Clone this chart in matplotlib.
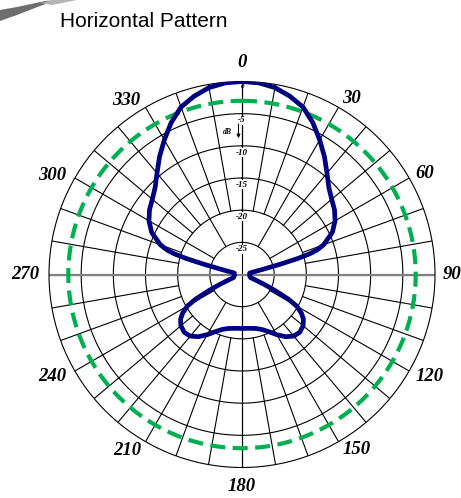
import numpy as np
import matplotlib.pyplot as plt
from matplotlib.patches import Polygon

# pattern data (dB), symmetric about the 0-180 axis
half_deg = [0, 5, 10, 15, 20, 25, 30, 35, 40, 45, 50, 55, 60, 65, 70, 72, 73, 74,
            75, 76, 77, 78, 80, 90, 100, 110, 112, 114, 116, 118, 120, 123, 126,
            130, 135, 140, 145, 150, 155, 160, 165, 170, 175, 180]
half_db = [0.0, -0.1, -0.5, -1.3, -2.3, -3.95, -5.85, -7.65, -9.45, -10.9, -11.8,
           -12.45, -13.3, -14.5, -16.5, -17.8, -19.0, -21.0, -24.0, -26.5, -27.8,
           -28.5, -28.8, -28.8, -28.8, -28.6, -27.8, -26.2, -24.2, -21.8, -20.2,
           -19.0, -18.2, -17.6, -17.3, -17.5, -18.2, -19.2, -20.2, -20.9, -21.3,
           -21.5, -21.6, -21.6]

omni_db = -3.0

ring_levels = [-25, -20, -15, -10, -5]
ring_labels = ["-25", "-20", "-15", "-10", "-5"]
angle_labels = ["0", "30", "60", "90", "120", "150", "180", "210", "240", "270", "300", "330"]

# where each bearing label sits: (deg, dB beyond the 0 dB rim)
label_deg = [0, 32, 61, 90, 118.5, 146.8, 180, 213, 241.7, 270, 297.7, 326.5]
label_r = [3.03, 2.18, 2.49, 2.64, 3.27, 2.58, 3.03, 2.64, 3.42, 3.65, 3.27, 2.49]

W, H = 461, 498
fig = plt.figure(figsize=(W / 100, H / 100), dpi=100)

# polar plot centred at (242, 274.5) px, radius 193 px
cx, cy, R = 242, 274.5, 193
ax = fig.add_axes([(cx - R) / W, (H - cy - R) / H, 2 * R / W, 2 * R / H],
                  projection="polar")
ax.set_theta_zero_location("N")
ax.set_theta_direction(-1)
ax.set_ylim(-30, 0)
ax.grid(False)
ax.set_xticks([])
ax.set_yticks([])
ax.spines["polar"].set_linewidth(0.8)
ax.spines["polar"].set_color("black")

ring_t = np.linspace(0, 2 * np.pi, 721)
for lvl in ring_levels:
    ax.plot(ring_t, np.full_like(ring_t, lvl), color="black", lw=0.8, zorder=1)

# spokes: every 30 deg from the -25 ring, the rest from the -20 ring
for a in range(0, 360, 10):
    start = -25 if a % 30 == 0 else -20
    ax.plot([np.radians(a)] * 2, [start, 0], color="black", lw=0.8, zorder=1)

ax.plot([0, 0], [-30, 0], color="black", lw=0.8, zorder=1)
ax.plot([np.pi, np.pi], [-30, 0], color="black", lw=0.8, zorder=1)
ax.plot([np.pi / 2] * 2, [-30, 0], color="#808080", lw=1.6, zorder=2)
ax.plot([3 * np.pi / 2] * 2, [-30, 0], color="#808080", lw=1.6, zorder=2)

serif = "Liberation Serif"
for lvl, txt in zip(ring_levels, ring_labels):
    ax.text(0, lvl - 1.05, txt, ha="center", va="center", fontsize=6.5,
            family=serif, style="italic", weight="bold", zorder=3,
            bbox=dict(facecolor="white", edgecolor="none", pad=0.3))
ax.text(0, -0.8, "0", ha="center", va="center", fontsize=5, family=serif,
        style="italic", weight="bold", zorder=3)

for txt, d, r in zip(angle_labels, label_deg, label_r):
    ax.text(np.radians(d), r, txt, ha="center", va="center", fontsize=13.5,
            family=serif, style="italic", weight="bold", clip_on=False)

# dB direction marker
ax.annotate("", xy=(0.4909, 0.846), xytext=(0.4909, 0.897),
            xycoords="axes fraction",
            arrowprops=dict(arrowstyle="-|>", color="black", lw=0.8,
                            mutation_scale=5))
ax.text(0.463, 0.869, "dB", transform=ax.transAxes, ha="center", va="center",
        fontsize=5.5, family=serif, style="italic", weight="bold")

# omni reference
ax.plot(ring_t, np.full_like(ring_t, omni_db), color="#00b050", lw=3,
        linestyle=(0, (3.6, 1.8)), zorder=4)

# horizontal pattern
half_deg = np.array(half_deg, dtype=float)
half_db = np.array(half_db)
deg = np.concatenate([half_deg, 360 - half_deg[::-1][1:]])
db = np.concatenate([half_db, half_db[::-1][1:]])
ax.plot(np.radians(deg), db, color="#000080", lw=3.4, zorder=5,
        solid_joinstyle="round", solid_capstyle="round")

fig.text(60 / W, 1 - 27 / H, "Horizontal Pattern", fontsize=15,
         family="Liberation Sans", va="baseline", ha="left")


# grey brush stroke in the top-left corner
def px(points):
    return [(x / W, 1 - y / H) for x, y in points]


fig.patches.append(Polygon(px([(0, 10), (17, 7), (45, 1), (58, 0), (40, 6), (17, 15), (0, 21)]),
                           closed=True, transform=fig.transFigure,
                           facecolor="#6e6e6e", edgecolor="none"))
fig.patches.append(Polygon(px([(40, 3), (55, 0), (77, 0), (52, 5)]),
                           closed=True, transform=fig.transFigure,
                           facecolor="#b4b4b4", edgecolor="none"))

fig.savefig("out.png", dpi=100)
